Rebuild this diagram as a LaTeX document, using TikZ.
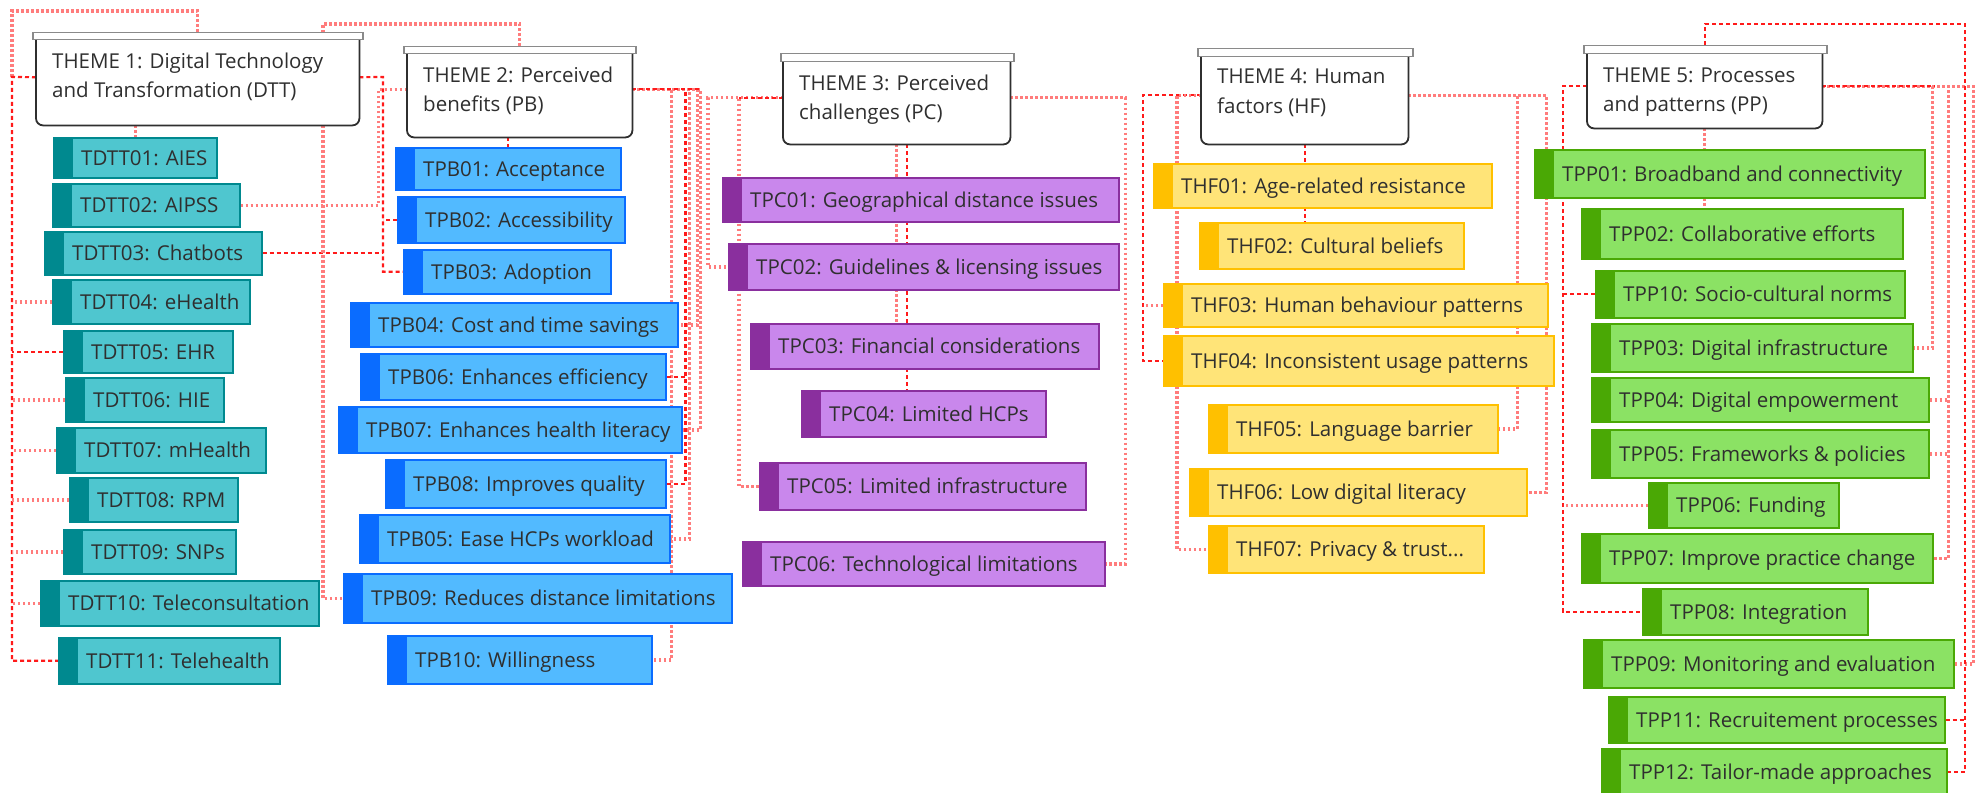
\documentclass[tikz,border=0pt]{standalone}
\usepackage{fontspec}
\setmainfont{Open Sans}
\definecolor{tealF}{HTML}{4FC6CF}
\definecolor{tealD}{HTML}{00898F}
\definecolor{blueF}{HTML}{52BAFF}
\definecolor{blueD}{HTML}{0A6CFF}
\definecolor{purF}{HTML}{C987EC}
\definecolor{purD}{HTML}{8A2F9E}
\definecolor{yelF}{HTML}{FFE478}
\definecolor{yelD}{HTML}{FFC000}
\definecolor{grnF}{HTML}{8BE264}
\definecolor{grnD}{HTML}{4AA805}
\definecolor{txt}{HTML}{2F2F2F}
\definecolor{lnk}{HTML}{FF1A1A}
\definecolor{plnk}{HTML}{FF7C7C}
\definecolor{barD}{HTML}{8A8A8A}
\pgfdeclarelayer{back}
\pgfdeclarelayer{bg}
\pgfsetlayers{back,bg,main}
\tikzset{
  box/.style={rectangle, line width=1.6pt, inner sep=0pt},
  itembox/.style 2 args={box, fill=#1, draw=#2,
    path picture={\fill[#2] (path picture bounding box.south west) rectangle ([xshift=19pt]path picture bounding box.north west);}},
  tdtt/.style={itembox={tealF}{tealD}},
  tpb/.style={itembox={blueF}{blueD}},
  tpc/.style={itembox={purF}{purD}},
  thf/.style={itembox={yelF}{yelD}},
  tpp/.style={itembox={grnF}{grnD}},
  itxt/.style={anchor=west, inner sep=0pt, text height=14.6pt, text depth=0pt, text=txt, font=\fontsize{20.5}{25}\selectfont},
  ttxt/.style={anchor=base west, inner sep=0pt, text=txt, font=\fontsize{20.5}{25}\selectfont},
  tbar/.style={rectangle, inner sep=0pt, fill=white, draw=barD, line width=1.5pt, anchor=north west},
  tbody/.style={rectangle, inner sep=0pt, fill=white, draw=none, anchor=north west},
  tframe/.style={draw=txt, line width=1.8pt, rounded corners=7pt},
  lk/.style={draw=lnk, line width=2.2pt, dash pattern=on 4pt off 3pt},
  pk/.style={draw=plnk, line width=3.4pt, dash pattern=on 2.5pt off 2.5pt},
}
\newcommand\mmbox[7]{%
  \node[#2, anchor=north west, minimum width=#5pt, minimum height=#6pt] (#1) at (#3,#4) {};
  \node[itxt] (#1t) at ([xshift=28pt]#1.west) {#7};
}
\newcommand\mmtheme[9]{% name, barx, bary, barw, barh, bodyx, bodyy, bodyw, bodyh
  \node[tbody, minimum width=#8pt, minimum height=#9pt] (#1) at (#6,#7) {};
  \draw[tframe] (#1.north west) -- (#1.south west) -- (#1.south east) -- (#1.north east);
  \node[tbar, minimum width=#4pt, minimum height=#5pt] (#1bar) at (#2,#3) {};
}
\begin{document}
\begin{tikzpicture}[x=1pt, y=-1pt]
\useasboundingbox (0,0) rectangle (1977,792);
\begin{pgfonlayer}{back}
\fill[white] (0,0) rectangle (1977,792);
\end{pgfonlayer}

% ---------- themes ----------
\mmtheme{t1}{32}{32}{330}{7}{36}{39}{323}{86}
\node[ttxt] (t1a) at (52,68) {THEME 1: Digital Technology};
\node[ttxt] (t1b) at (52,97) {and Transformation (DTT)};
\mmtheme{t2}{403}{46}{232}{7}{407}{53}{225}{84}
\node[ttxt] (t2a) at (423,82) {THEME 2: Perceived};
\node[ttxt] (t2b) at (423,111) {benefits (PB)};
\mmtheme{t3}{780}{53}{233}{8}{783}{61}{227}{83}
\node[ttxt] (t3a) at (799,90) {THEME 3: Perceived};
\node[ttxt] (t3b) at (799,119) {challenges (PC)};
\mmtheme{t4}{1197}{48}{215}{8}{1201}{56}{207}{88}
\node[ttxt] (t4a) at (1217,83) {THEME 4: Human};
\node[ttxt] (t4b) at (1217,113) {factors (HF)};
\mmtheme{t5}{1583}{45}{243}{8}{1587}{53}{235}{75}
\node[ttxt] (t5a) at (1603,82) {THEME 5: Processes};
\node[ttxt] (t5b) at (1603,111) {and patterns (PP)};

% ---------- theme 1 items ----------
\mmbox{tdtt01}{tdtt}{53}{137}{163}{40}{TDTT01: AIES}
\mmbox{tdtt02}{tdtt}{52}{183}{187}{43}{TDTT02: AIPSS}
\mmbox{tdtt03}{tdtt}{44}{231}{217}{43}{TDTT03: Chatbots}
\mmbox{tdtt04}{tdtt}{52}{279}{197}{44}{TDTT04: eHealth}
\mmbox{tdtt05}{tdtt}{63}{330}{169}{42}{TDTT05: EHR}
\mmbox{tdtt06}{tdtt}{65}{377}{158}{44}{TDTT06: HIE}
\mmbox{tdtt07}{tdtt}{56}{427}{209}{45}{TDTT07: mHealth}
\mmbox{tdtt08}{tdtt}{69}{477}{168}{44}{TDTT08: RPM}
\mmbox{tdtt09}{tdtt}{63}{529}{172}{44}{TDTT09: SNPs}
\mmbox{tdtt10}{tdtt}{40}{580}{278}{45}{TDTT10: Teleconsultation}
\mmbox{tdtt11}{tdtt}{58}{637}{221}{46}{TDTT11: Telehealth}

% ---------- theme 2 items ----------
\mmbox{tpb01}{tpb}{395}{147}{225}{42}{TPB01: Acceptance}
\mmbox{tpb02}{tpb}{397}{196}{227}{46}{TPB02: Accessibility}
\mmbox{tpb03}{tpb}{403}{249}{207}{44}{TPB03: Adoption}
\mmbox{tpb04}{tpb}{350}{302}{327}{44}{TPB04: Cost and time savings}
\mmbox{tpb06}{tpb}{360}{353}{305}{46}{TPB06: Enhances efficiency}
\mmbox{tpb07}{tpb}{338}{406}{343}{46}{TPB07: Enhances health literacy}
\mmbox{tpb08}{tpb}{385}{459}{280}{48}{TPB08: Improves quality}
\mmbox{tpb05}{tpb}{359}{514}{310}{48}{TPB05: Ease HCPs workload}
\mmbox{tpb09}{tpb}{343}{573}{388}{49}{TPB09: Reduces distance limitations}
\mmbox{tpb10}{tpb}{387}{635}{264}{48}{TPB10: Willingness}

% ---------- theme 3 items ----------
\mmbox{tpc01}{tpc}{722}{177}{396}{44}{TPC01: Geographical distance issues}
\mmbox{tpc02}{tpc}{728}{243}{390}{46}{TPC02: Guidelines \& licensing issues}
\mmbox{tpc03}{tpc}{750}{323}{348}{45}{TPC03: Financial considerations}
\mmbox{tpc04}{tpc}{801}{390}{244}{46}{TPC04: Limited HCPs}
\mmbox{tpc05}{tpc}{759}{462}{326}{47}{TPC05: Limited infrastructure}
\mmbox{tpc06}{tpc}{742}{541}{362}{44}{TPC06: Technological limitations}

% ---------- theme 4 items ----------
\mmbox{thf01}{thf}{1153}{163}{338}{44}{THF01: Age-related resistance}
\mmbox{thf02}{thf}{1199}{222}{264}{46}{THF02: Cultural beliefs}
\mmbox{thf03}{thf}{1163}{283}{384}{43}{THF03: Human behaviour patterns}
\mmbox{thf04}{thf}{1163}{335}{390}{50}{THF04: Inconsistent usage patterns}
\mmbox{thf05}{thf}{1208}{404}{289}{48}{THF05: Language barrier}
\mmbox{thf06}{thf}{1189}{468}{337}{47}{THF06: Low digital literacy}
\mmbox{thf07}{thf}{1208}{525}{275}{47}{THF07: Privacy \& trust...}

% ---------- theme 5 items ----------
\mmbox{tpp01}{tpp}{1534}{149}{390}{48}{TPP01: Broadband and connectivity}
\mmbox{tpp02}{tpp}{1581}{208}{321}{50}{TPP02: Collaborative efforts}
\mmbox{tpp10}{tpp}{1595}{270}{309}{47}{TPP10: Socio-cultural norms}
\mmbox{tpp03}{tpp}{1591}{323}{321}{48}{TPP03: Digital infrastructure}
\mmbox{tpp04}{tpp}{1591}{377}{337}{44}{TPP04: Digital empowerment}
\mmbox{tpp05}{tpp}{1591}{429}{337}{48}{TPP05: Frameworks \& policies}
\mmbox{tpp06}{tpp}{1648}{482}{190}{45}{TPP06: Funding}
\mmbox{tpp07}{tpp}{1581}{533}{351}{49}{TPP07: Improve practice change}
\mmbox{tpp08}{tpp}{1642}{588}{225}{46}{TPP08: Integration}
\mmbox{tpp09}{tpp}{1583}{639}{370}{48}{TPP09: Monitoring and evaluation}
\mmbox{tpp11}{tpp}{1608}{696}{336}{46}{TPP11: Recruitement processes}
\mmbox{tpp12}{tpp}{1601}{748}{345}{46}{TPP12: Tailor-made approaches}

% ---------- connectors ----------
\begin{pgfonlayer}{bg}
% theme 1
\coordinate (L1) at (12,77);
\draw[pk] (t1bar.north) -- ++(0,-21) -| (L1);
\draw[lk] ([yshift=5pt]t1.west) -- (L1) |- (tdtt11.west);
\foreach \n in {04,06,07,08,09,10} \draw[pk] (tdtt\n.west) -- (tdtt\n.west -| L1);
\draw[lk] (tdtt05.west) -- (tdtt05.west -| L1);
\draw[pk] (t1.south -| tdtt01.north) -- (tdtt01.north);
\coordinate (R1) at (383,77);
\draw[lk] ([yshift=5pt]t1.east) -- (R1) |- (tpb03.west);
\draw[lk] (tdtt03.east) -- (tdtt03.east -| R1);
\draw[lk] (tpb02.west) -- (tpb02.west -| R1);
\draw[pk] (tdtt02.east) -- ++(138,0) |- ([yshift=6pt]t2.west);
\coordinate (X23) at (323,300);
\draw[pk] (t2bar.north) -- ++(0,-22) -| (X23) |- (tpb09.west);
% theme 2
\draw[lk] (tpb01.north |- t2.south) -- (tpb01.north);
\coordinate (B2) at ([yshift=6pt]t2.east);
\draw[pk] (B2) -- ++(39,0) |- (tpb10.east);
\draw[pk] (B2) -- ++(57,0) |- (tpb05.east);
\draw[pk] (B2) -- ++(65,0) |- (tpb04.east);
\draw[pk] (B2) -- ++(68,0) |- (tpb07.east);
\draw[lk] (B2) -- ++(53,0) |- (tpb08.east);
\draw[lk] (tpb06.east) -- ++(20,0);
\draw[lk] (B2) -- ++(68,0);
% theme 3
\coordinate (B3L) at ([yshift=5pt]t3.west);
\draw[pk] (B3L) -- ++(-75,0) |- (tpc02.west);
\draw[pk] (B3L) -- ++(-44,0) |- (tpc05.west);
\draw[lk] (B3L) -- ++(-44,0);
\draw[pk] ([yshift=5pt]t3.east) -- ++(115,0) |- (tpc06.east);
\draw[pk] (t3.south) -- (t3.south |- tpc03.north);
\draw[lk] ([xshift=10pt]t3.south) -- ([xshift=10pt]t3.south |- tpc04.north);
% theme 4
\draw[lk] ([yshift=5pt]t4.west) -- ++(-58,0) |- (thf04.west);
\draw[pk] (thf03.west) -- ++(-20,0);
\draw[pk] ([yshift=5pt]t4.west) -- ++(-24,0) |- (thf07.west);
\draw[pk] ([yshift=5pt]t4.east) -- ++(109,0) |- (thf05.east);
\draw[pk] ([yshift=5pt]t4.east) -- ++(138,0) |- (thf06.east);
\draw[lk] (t4.south) -- (t4.south |- thf02.north);
% theme 5
\draw[lk] ([yshift=4.5pt]t5.west) -- ++(-24,0) coordinate (X5) |- (tpp08.west);
\draw[lk] (tpp10.west) -- (tpp10.west -| X5);
\draw[pk] (tpp06.west) -- (tpp06.west -| X5);
\draw[pk] (t5.south) -- (t5.south |- tpp02.north);
\coordinate (B5) at ([yshift=4.5pt]t5.east);
\draw[pk] (B5) -- ++(110,0) |- (tpp03.east);
\draw[pk] (B5) -- ++(126,0) coordinate (X48) |- (tpp07.east);
\draw[pk] (tpp04.east) -- (tpp04.east -| X48);
\draw[pk] (tpp05.east) -- (tpp05.east -| X48);
\draw[pk] (B5) -- ++(151,0) |- (tpp09.east);
\draw[lk] (B5) -- ++(113,0);
\coordinate (X65) at (1965,400);
\draw[lk] (t5bar.north) -- ++(0,-21) -| (X65) |- (tpp12.east);
\draw[lk] (tpp11.east) -- (tpp11.east -| X65);
\end{pgfonlayer}
\end{tikzpicture}
\end{document}
